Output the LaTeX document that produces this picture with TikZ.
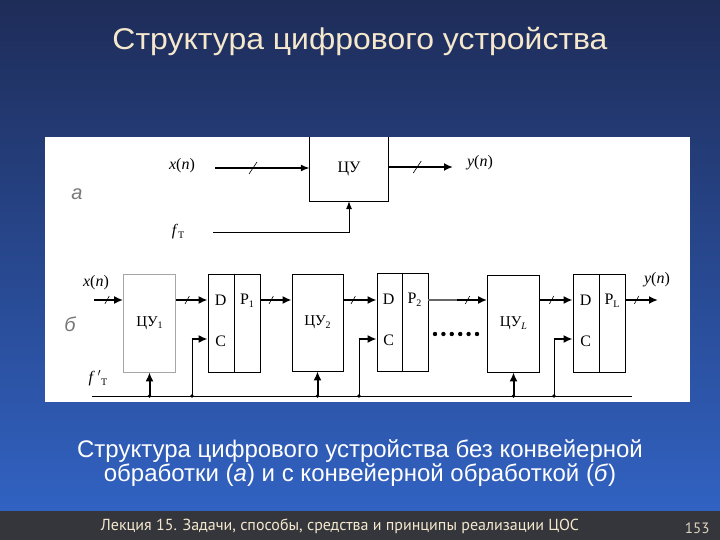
\documentclass[tikz,border=0pt]{standalone}
\usepackage{fontspec}
\setmainfont{Liberation Serif}
\newfontfamily\sansf{Liberation Sans}
\newfontfamily\footf{PT Sans}
\usetikzlibrary{arrows.meta,calc}
\definecolor{bgtop}{RGB}{30,44,88}
\definecolor{bgbot}{RGB}{49,98,194}
\definecolor{cream}{RGB}{245,232,205}
\definecolor{footbg}{RGB}{52,54,60}
\definecolor{lblgray}{RGB}{120,120,120}
\newcommand\sbs[1]{\raisebox{-0.35ex}{\fontsize{10}{10}\selectfont #1}}
% slash mark at fraction #3 between points #1 and #2
\newcommand\slashat[3]{\draw[slashst] ($(#1)!#3!(#2)$) +(-2.2,4) -- +(2.2,-4);}
\newcommand\bigslashat[3]{\draw[slashst] ($(#1)!#3!(#2)$) +(-4,6) -- +(4,-6);}
\tikzset{
  lab/.style={inner sep=0pt, font=\fontsize{16}{18}\selectfont},
  sidelab/.style={inner sep=0pt, text=lblgray, font=\sansf\itshape\fontsize{20}{22}\selectfont},
  cubox/.style={draw, line width=0.8pt, inner sep=0pt, minimum width=52pt, minimum height=98pt, font=\fontsize{15}{17}\selectfont},
  reg/.style={draw, line width=0.8pt, inner sep=0pt, minimum width=52pt, minimum height=98pt},
  dat/.style={line width=2pt, -{Latex[length=9pt,width=8pt]}},
  clk/.style={line width=0.8pt},
  slashst/.style={line width=0.6pt},
  junc/.style={fill, radius=1.8pt},
}
\begin{document}
\begin{tikzpicture}[x=1pt,y=-1pt]
\useasboundingbox (0,0) rectangle (720,540);
% background
\shade[top color=bgtop, bottom color=bgbot] (0,0) rectangle (720,511);
\fill[footbg] (0,511) rectangle (720,540);
% title
\node[text=cream, font=\sansf\fontsize{30}{34}\selectfont, anchor=base] (title) at (360,50) {\scalebox{1.065}[1]{Структура цифрового устройства}};
% panel
\fill[white] (45,137) rectangle (690,402);

% ---------- part a ----------
\node[sidelab] (la) at (77,194) {а};
\node[inner sep=0pt, minimum width=78pt, minimum height=64pt, font=\fontsize{16}{18}\selectfont] (cu) at (349,169) {ЦУ};
\draw[line width=0.8pt] (cu.north west) -- (cu.south west) -- (cu.south east) -- (cu.north east);
\node[lab] (xa) at (182,166) {\textit{x}(\textit{n})};
\node[lab] (ya) at (480,163) {\textit{y}(\textit{n})};
\node[lab] (fa) at (178,232) {\textit{f}\sbs{Т}};
\draw[line width=1.6pt, -{Latex[length=9pt,width=7pt]}] (215,168) -- (cu.west |- 0,168);
\bigslashat{215,168}{310,168}{0.4}
\draw[line width=2.4pt, -{Latex[length=9pt,width=8pt]}] (cu.east |- 0,167) -- (453,167);
\bigslashat{388,167}{453,167}{0.45}
\draw[line width=0.8pt, -{Latex[length=8pt,width=6pt]}] (213,232) -| (cu.south);

% ---------- part b ----------
\node[sidelab] (lb) at (70,324) {б};
\node[cubox, draw=gray!70] (cu1) at (149.5,323) {ЦУ\sbs{1}};
\node[reg] (r1) at (234,323) {};
\node[cubox, minimum width=51pt, minimum height=97pt] (cu2) at (317.5,322.5) {ЦУ\sbs{2}};
\node[reg, minimum width=51pt] (r2) at (402.5,322) {};
\node[cubox, minimum height=97pt] (cuL) at (513.5,323.5) {ЦУ\sbs{\textit{L}}};
\node[reg] (rL) at (599,323) {};
\foreach \r in {r1,r2,rL} \draw[line width=0.8pt] (\r.north) -- (\r.south);
% register labels
\node[lab] (d1) at ($(r1.north west)+(13,27)$) {D};
\node[lab] (p1) at ($(r1.north)+(13,27)$) {Р\sbs{1}};
\node[lab] (c1) at ($(r1.north west)+(13,68)$) {C};
\node[lab] (d2) at ($(r2.north west)+(12,27)$) {D};
\node[lab] (p2) at ($(r2.north)+(12,27)$) {Р\sbs{2}};
\node[lab] (c2) at ($(r2.north west)+(12,68)$) {C};
\node[lab] (dL) at ($(rL.north west)+(13,27)$) {D};
\node[lab] (pL) at ($(rL.north)+(13,27)$) {Р\sbs{L}};
\node[lab] (cL) at ($(rL.north west)+(13,68)$) {C};
\node[lab] (xb) at (96,283) {\textit{x}(\textit{n})};
\node[lab] (yb) at (657,280) {\textit{y}(\textit{n})};

% data path
\draw[dat] (94,300) -- (cu1.west |- 0,300);
\draw[dat] (cu1.east |- 0,300) -- (r1.west |- 0,300);
\draw[dat] (r1.east |- 0,300) -- (cu2.west |- 0,300);
\draw[dat] (cu2.east |- 0,300) -- (r2.west |- 0,300);
\draw[line width=2pt, gray!80!black, dash pattern=on 1.2pt off 0.8pt] (r2.east |- 0,300) -- (457,300);
\draw[dat] (457,300) -- (cuL.west |- 0,300);
\draw[dat] (cuL.east |- 0,300) -- (rL.west |- 0,300);
\draw[dat] (rL.east |- 0,300) -- (658,300);
\foreach \xa/\xb/\f in {94/123/0.45, 176/208/0.35, 260/292/0.35, 343/377/0.3, 457/487/0.35, 540/573/0.35, 625/658/0.35}
  {\slashat{\xa,300}{\xb,300}{\f}}

% ellipsis
\foreach \i in {0,...,5} \fill (435+8.4*\i,334) circle (2.2);

% clock bus
\coordinate (busL) at (92,396);
\coordinate (busR) at (632,396);
\node[lab] (fb) at (98,378) {\textit{f}\,$'$\sbs{Т}};
\draw[clk] (busL) -- (busR);
\foreach \u in {cu1,cu2,cuL}{
  \draw[dat] (\u.south |- busL) -- (\u.south);
  \fill[junc] (\u.south |- busL) circle;
}
\foreach \r/\x in {r1/192,r2/359,rL/554}{
  \coordinate (k\r) at (\x,396);
  \coordinate (kc\r) at (\x,339);
  \draw[clk] (k\r) -- (kc\r);
  \draw[dat] ([xshift=-0.4pt]kc\r) -- (kc\r -| \r.west);
  \fill[junc] (k\r) circle;
}

% caption
\node[text=white, align=center, font=\sansf\fontsize{24}{24}\selectfont] (cap) at (360,463)
  {Структура цифрового устройства без конвейерной\\обработки (\textit{а}) и с конвейерной обработкой (\textit{б})};
% footer
\node[text=cream, font=\footf\fontsize{16}{18}\selectfont] (foot) at (340,526) {Лекция 15. Задачи, способы, средства и принципы реализации ЦОС};
\node[text=cream!80!gray, font=\footf\fontsize{15}{17}\selectfont, anchor=east] (pg) at (713,528) {153};
\end{tikzpicture}
\end{document}
